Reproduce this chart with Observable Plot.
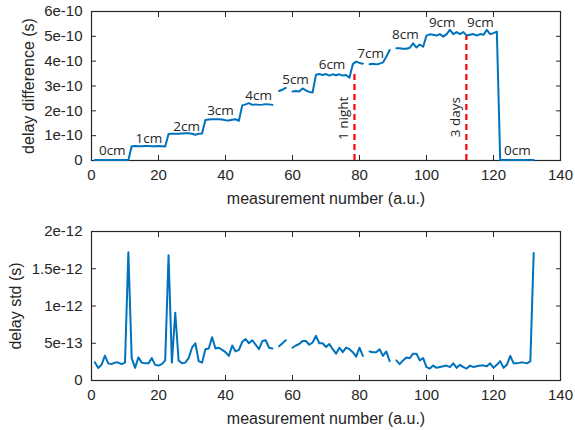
<!DOCTYPE html>
<html><head><meta charset="utf-8">
<script src="https://cdn.jsdelivr.net/npm/d3@7"></script>
<script src="https://cdn.jsdelivr.net/npm/@observablehq/plot@0.6"></script>
<style>
body{margin:0;background:#fff;}
#c{width:575px;height:430px;overflow:hidden;}
#c svg{display:block;}
</style>
</head><body><div id="c"></div><script>
// measurement numbers 1..132
const measurement = d3.range(1, 133);

// delay difference, in units of 1e-10 s (null = no measurement)
const delayDiffE10 = [
  0.02,0.02,0.02,0.02,0.02,0.02,0.02,0.02,0.02,0.02,0.02,
  0.57,0.58,0.57,0.57,0.58,0.58,0.57,0.57,0.58,0.57,0.56,
  1.07,1.08,1.08,1.08,1.09,1.10,1.10,1.08,1.04,1.08,1.09,
  1.63,1.65,1.66,1.66,1.66,1.65,1.62,1.61,1.64,1.66,1.60,
  2.22,2.26,2.31,2.24,2.26,2.24,2.25,2.27,2.26,2.24,
  null,
  2.80,2.85,2.92,
  null,
  2.78,2.80,2.78,2.90,2.82,2.76,2.74,
  3.45,3.48,3.44,3.48,3.42,3.47,3.43,3.47,3.42,3.44,3.33,
  3.88,3.98,3.93,3.90,
  null,
  3.88,3.90,3.87,3.90,3.95,4.18,4.45,
  null,
  4.52,4.52,4.50,4.50,4.54,4.72,4.55,4.67,4.58,
  5.03,5.08,5.06,5.03,5.09,4.99,5.09,5.26,5.09,5.17,5.09,5.17,5.03,5.06,5.09,5.03,5.09,5.06,5.26,5.09,5.13,5.19,
  0.02,0.02,0.02,0.02,0.02,0.02,0.02,0.02,0.02,0.02,0.02
];

// delay std, in units of 1e-13 s
const delayStdE13 = [
  2.44,1.69,2.1,3.33,2.3,2.2,2.4,2.4,2.2,2.4,
  17.2,3.0,1.7,3.1,2.4,2.3,2.3,3.0,2.1,2.0,
  2.2,2.7,16.8,2.4,9.1,2.7,2.3,2.4,3.0,4.4,
  5.0,2.6,2.4,4.2,4.3,5.8,4.3,4.4,4.1,3.8,
  3.3,4.7,3.9,4.1,5.2,5.55,5.0,5.4,4.8,4.2,
  5.3,5.4,4.4,4.3,null,4.6,5.0,5.4,null,4.4,
  4.7,4.9,5.3,5.3,4.8,5.1,6.0,5.0,5.0,4.5,
  4.9,4.2,3.6,4.4,3.8,4.4,4.2,3.8,3.2,4.4,
  3.3,null,3.9,3.8,3.8,4.2,3.3,3.9,2.6,null,
  2.7,2.2,2.7,3.1,3.0,3.6,3.6,2.7,3.0,1.8,
  1.6,2.0,1.7,1.8,1.9,2.0,1.8,2.3,1.7,2.1,
  1.8,1.6,2.0,1.8,1.9,2.0,2.0,1.9,2.3,1.7,
  2.1,2.6,1.7,2.1,3.3,2.3,2.3,2.4,2.4,2.3,
  2.6,17.1
];

// step labels (text, measurement number, level in 1e-10 s)
const stepLabels = ["0cm","1cm","2cm","3cm","4cm","5cm","6cm","7cm","8cm","9cm","9cm","0cm"];
const stepLabelX = [6.2,17.1,28.4,38.5,49.9,60.9,71.8,83.3,93.7,104.7,116.1,127.1];
const stepLabelY = [0.40,0.88,1.38,2.02,2.63,3.27,3.85,4.32,5.06,5.56,5.56,0.40];

// events (red dashed lines)
const eventNames = ["1 night","3 days"];
const eventX = [78.5, 111.9];
const eventTopE10 = [3.5, 5.0];
const eventLabelX = [75.3, 108.7];
const eventLabelY = [1.7, 1.75];

// axis ticks
const xTicks = [0,20,40,60,80,100,120,140];
const yTicksTop = [0,1e-10,2e-10,3e-10,4e-10,5e-10,6e-10];
const yTicksBottom = [0,5e-13,1e-12,1.5e-12,2e-12];

// tables
const toNum = v => (v === null ? NaN : v);
const topData = measurement.map((n, i) => ({n, v: toNum(delayDiffE10[i]) * 1e-10}));
const botData = measurement.map((n, i) => ({n, v: toNum(delayStdE13[i]) * 1e-13}));
const labelData = stepLabels.map((t, i) => ({t, x: stepLabelX[i], y: stepLabelY[i] * 1e-10}));
const eventData = eventNames.map((t, i) => ({t, x: eventX[i], top: eventTopE10[i] * 1e-10, lx: eventLabelX[i], ly: eventLabelY[i] * 1e-10}));

const fmt = v => v === 0 ? "0" : Number(v.toPrecision(6)).toExponential();
const axisColor = "#262626";
const blue = "#0072BD";
const tickFont = "'Liberation Sans', Arial, sans-serif";

function frameMarks(yTicks, ylabel, ylabelDx) {
  return [
    Plot.axisX(xTicks, {anchor: "bottom", tickSize: -5, label: null, fontSize: 15, stroke: axisColor, fill: axisColor}),
    Plot.axisX(xTicks, {anchor: "top", tickSize: -5, label: null, tickFormat: () => "", stroke: axisColor}),
    Plot.axisY(yTicks, {anchor: "left", tickSize: -5, label: null, tickFormat: fmt, fontSize: 15, stroke: axisColor, fill: axisColor}),
    Plot.axisY(yTicks, {anchor: "right", tickSize: -5, label: null, tickFormat: () => "", stroke: axisColor}),
    Plot.frame({stroke: axisColor, strokeWidth: 1.2}),
    Plot.text([ylabel], {frameAnchor: "left", textAnchor: "middle", lineAnchor: "middle", rotate: -90, dx: ylabelDx, fontSize: 16, fill: axisColor}),
    Plot.text(["measurement number (a.u.)"], {frameAnchor: "bottom", textAnchor: "middle", lineAnchor: "middle", dy: 38, fontSize: 16, fill: axisColor})
  ];
}

const topPlot = Plot.plot({
  width: 575, height: 215,
  marginLeft: 91, marginRight: 15, marginTop: 11, marginBottom: 55,
  style: {fontFamily: tickFont, fontSize: "15px", color: axisColor, background: "white"},
  x: {domain: [0, 140]},
  y: {domain: [0, 6e-10]},
  marks: [
    ...frameMarks(yTicksTop, "delay difference (s)", -63),
    Plot.line(topData, {x: "n", y: "v", stroke: blue, strokeWidth: 2}),
    Plot.ruleX(eventData, {x: "x", y1: 0, y2: "top", stroke: "#FF0000", strokeWidth: 2.2, strokeDasharray: "6,4"}),
    Plot.text(labelData, {x: "x", y: "y", text: "t", fontFamily: "'Open Sans', sans-serif", fontSize: 13.5, fill: axisColor}),
    Plot.text(eventData, {x: "lx", y: "ly", text: "t", rotate: -90, fontFamily: "'Open Sans', sans-serif", fontSize: 13.5, fill: axisColor})
  ]
});

const botPlot = Plot.plot({
  width: 575, height: 215,
  marginLeft: 91, marginRight: 15, marginTop: 16, marginBottom: 50,
  style: {fontFamily: tickFont, fontSize: "15px", color: axisColor, background: "white"},
  x: {domain: [0, 140]},
  y: {domain: [0, 2e-12]},
  marks: [
    ...frameMarks(yTicksBottom, "delay std (s)", -76),
    Plot.line(botData, {x: "n", y: "v", stroke: blue, strokeWidth: 2})
  ]
});

const c = document.getElementById("c");
c.appendChild(topPlot);
c.appendChild(botPlot);
</script></body></html>
